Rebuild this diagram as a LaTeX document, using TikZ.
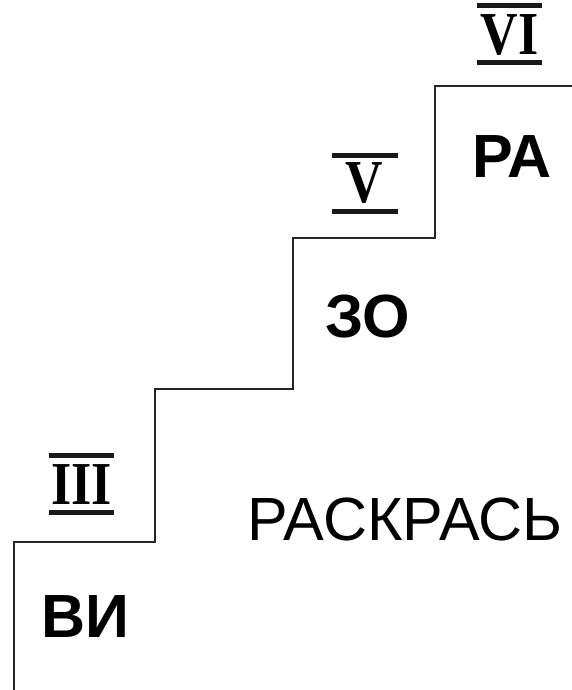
\documentclass[tikz,border=0pt]{standalone}
\usepackage{fontspec}
\setmainfont{Liberation Sans}
\newfontfamily\romanfont{Liberation Serif}
\begin{document}
\begin{tikzpicture}[x=1pt,y=-1pt,
  stair/.style={line width=2pt, black!85, line join=miter},
  syl/.style={font=\fontsize{61}{61}\selectfont\bfseries, anchor=base, inner sep=0pt},
  word/.style={font=\fontsize{61}{61}\selectfont, anchor=base, inner sep=0pt},
  roman/.style={font=\fontsize{61}{61}\selectfont\romanfont\bfseries, anchor=base, inner sep=0pt},
  bar/.style={fill=black!90}]
\useasboundingbox (0,0) rectangle (572,690);
% staircase corners
\coordinate (s0) at (14,690);
\coordinate (s1) at (14,542);
\coordinate (s2) at (155,542);
\coordinate (s3) at (155,389);
\coordinate (s4) at (293,389);
\coordinate (s5) at (293,238);
\coordinate (s6) at (435,238);
\coordinate (s7) at (435,86);
\coordinate (s8) at (572,86);
\draw[stair] (s0) -- (s1) -- (s2) -- (s3) -- (s4) -- (s5) -- (s6) -- (s7) -- (s8);
% roman numerals
\node[roman] (r3) at (81.5,504) {\scalebox{0.85}[1]{III}};
\fill[bar] (49,453) rectangle (114,458);
\fill[bar] (49,510) rectangle (114,515);
\node[roman] (r5) at (364,202) {\scalebox{0.85}[1]{V}};
\fill[bar] (332,153) rectangle (398,158);
\fill[bar] (332,209) rectangle (398,214);
\node[roman] (r6) at (509.5,55) {\scalebox{0.85}[1]{VI}};
\fill[bar] (477,3) rectangle (542,8);
\fill[bar] (477,60) rectangle (542,65);
% syllables
\node[syl] (ra) at (512,177) {РА};
\node[syl] (zo) at (367.5,337) {ЗО};
\node[syl] (vi) at (85.5,637) {ВИ};
\node[word] (color) at (405,540) {РАСКРАСЬ};
\end{tikzpicture}
\end{document}
